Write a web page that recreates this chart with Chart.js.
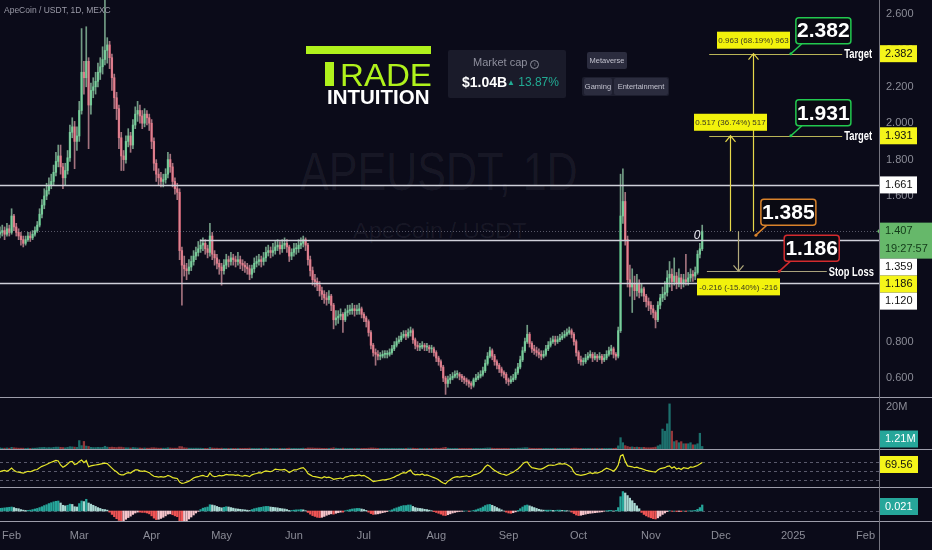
<!DOCTYPE html>
<html>
<head>
<meta charset="utf-8">
<script src="https://cdn.jsdelivr.net/npm/chart.js@4.4.1/dist/chart.umd.min.js"></script>
<style>
  body { margin: 0; background: #0b0b19; }
  #wrap { position: relative; width: 932px; height: 550px; overflow: hidden; background: #0b0b19; font-family: 'Liberation Sans', Arial, sans-serif; }
  canvas { position: absolute; left: 0; }
  .abs { position: absolute; white-space: nowrap; }
  .sep { position: absolute; left: 0; width: 932px; height: 1px; background: #9d9daa; }
  .tag { height: 17px; background: #2b2c3e; color: #c2c2ce; font: 7.5px/17px 'Liberation Sans', Arial, sans-serif; text-align: center; border-radius: 2px; }
  #wm1 { left: 300px; top: 145px; font: 53px/53px 'Liberation Sans', Arial, sans-serif; color: rgba(210, 210, 230, 0.07); transform-origin: 0 0; }
  #wm2 { left: 353px; top: 220px; font: 22px/22px 'Liberation Sans', Arial, sans-serif; color: rgba(210, 210, 230, 0.07); transform-origin: 0 0; }
  #rade { left: 340px; top: 59px; font: 32px/32px 'Liberation Sans', Arial, sans-serif; color: #b0f21c; transform-origin: 0 0; }
  #intu { left: 327px; top: 88px; font: bold 19.5px/19.5px 'Liberation Sans', Arial, sans-serif; color: #fff; transform-origin: 0 0; }
</style>
</head>
<body>
<div id="wrap">
  <div id="wm1" class="abs">APEUSDT, 1D</div>
  <div id="wm2" class="abs">ApeCoin / USDT</div>

  <canvas id="main" width="932" height="397" style="top:0"></canvas>
  <canvas id="vol" width="932" height="51" style="top:398px"></canvas>
  <canvas id="rsi" width="932" height="37" style="top:450px"></canvas>
  <canvas id="macd" width="932" height="62" style="top:488px"></canvas>

  <div class="sep" style="top:397px"></div>
  <div class="sep" style="top:449px"></div>
  <div class="sep" style="top:487px"></div>
  <div class="sep" style="top:521px"></div>
  <div class="abs" style="left:879px;top:0;width:1px;height:550px;background:#74747f"></div>

  <div class="abs" style="left:4px;top:5px;font:8.5px 'Liberation Sans',Arial,sans-serif;color:#9b9ba8">ApeCoin / USDT, 1D, MEXC</div>

  <!-- logo -->
  <div class="abs" style="left:306px;top:46px;width:125px;height:8px;background:#b0f21c"></div>
  <div class="abs" style="left:325px;top:62px;width:9px;height:24px;background:#b0f21c"></div>
  <div id="rade" class="abs">RADE</div>
  <div id="intu" class="abs">INTUITION</div>

  <!-- market cap -->
  <div class="abs" style="left:448px;top:50px;width:118px;height:48px;background:#1a1b2a;border-radius:2px"></div>
  <div class="abs" style="left:473px;top:56px;font:11px/12px 'Liberation Sans',Arial,sans-serif;color:#8e8f9d">Market cap <span style="display:inline-block;width:7px;height:7px;border:1px solid #8e8f9d;border-radius:50%;font-size:6px;line-height:7px;text-align:center">i</span></div>
  <div class="abs" style="left:462px;top:75px;font:bold 14px/14px 'Liberation Sans',Arial,sans-serif;color:#fff">$1.04B</div>
  <div class="abs" style="left:507px;top:76px;font:12px/12px 'Liberation Sans',Arial,sans-serif;color:#22ab94"><span style="font-size:8px;vertical-align:1px">▲</span> 13.87%</div>

  <div class="abs tag" style="left:587px;top:52px;width:40px">Metaverse</div>
  <div class="abs" style="left:582px;top:77px;width:87px;height:19px;background:#1d1e2e;border-radius:2px"></div>
  <div class="abs tag" style="left:584px;top:78px;width:28px">Gaming</div>
  <div class="abs tag" style="left:614px;top:78px;width:54px">Entertainment</div>
</div>

<script>
// daily candles, first one is 27 Jan 2024 (day 0 = 1 Feb 2024)
const firstDay = -5;
const firstOpen = 1.39;

const closes = [
  1.40,1.41,1.39,1.42,1.40,
  1.49,1.43,1.40,1.38,1.36,1.34,1.36,1.38,1.37,1.39,
  1.41,1.44,1.50,1.55,1.60,1.63,1.66,1.68,1.73,1.79,
  1.82,1.76,1.70,1.74,1.81,1.95,1.98,1.90,1.93,2.07,
  2.28,2.25,2.34,2.10,2.18,2.20,2.23,2.28,2.31,2.35,
  2.40,2.43,2.36,2.25,2.14,2.08,1.92,1.82,1.80,1.90,
  1.93,1.88,1.99,2.05,2.07,2.04,2.00,2.05,2.03,2.00,
  1.90,1.78,1.72,1.70,1.68,1.69,1.72,1.80,1.76,1.68,
  1.64,1.62,1.30,1.22,1.20,1.19,1.21,1.24,1.27,1.29,
  1.31,1.33,1.34,1.31,1.29,1.38,1.28,1.26,1.23,1.21,
  1.19,1.22,1.25,1.24,1.26,1.25,1.24,1.25,1.23,1.22,
  1.21,1.20,1.17,1.20,1.23,1.24,1.25,1.24,1.26,1.29,
  1.30,1.29,1.30,1.32,1.33,1.31,1.33,1.34,1.32,1.27,
  1.29,1.31,1.31,1.33,1.34,1.36,1.33,1.25,1.19,1.14,
  1.13,1.11,1.08,1.06,1.04,1.03,1.05,1.00,0.92,0.93,
  0.94,0.95,0.92,0.96,0.97,0.97,0.98,0.97,0.97,0.98,
  0.95,0.93,0.91,0.85,0.78,0.74,0.73,0.72,0.72,0.73,
  0.73,0.73,0.74,0.76,0.78,0.80,0.81,0.83,0.84,0.83,
  0.85,0.86,0.81,0.78,0.77,0.77,0.78,0.77,0.77,0.76,
  0.76,0.74,0.71,0.69,0.66,0.60,0.57,0.59,0.60,0.61,
  0.62,0.62,0.61,0.60,0.59,0.58,0.57,0.56,0.59,0.60,
  0.61,0.62,0.64,0.68,0.72,0.75,0.72,0.69,0.67,0.65,
  0.63,0.62,0.59,0.58,0.59,0.60,0.63,0.66,0.70,0.75,
  0.80,0.84,0.79,0.76,0.75,0.74,0.73,0.72,0.73,0.76,
  0.78,0.80,0.81,0.80,0.81,0.82,0.83,0.84,0.85,0.86,
  0.84,0.80,0.74,0.70,0.69,0.69,0.71,0.72,0.73,0.71,
  0.72,0.71,0.72,0.70,0.71,0.73,0.75,0.76,0.73,0.72,
  0.86,1.49,1.57,1.36,1.14,1.10,1.12,1.08,1.12,1.07,
  1.09,1.05,1.02,1.00,0.98,0.96,0.92,1.00,1.04,1.06,
  1.07,1.15,1.17,1.13,1.16,1.12,1.15,1.12,1.14,1.13,
  1.15,1.17,1.16,1.18,1.28,1.31,1.407
];

const highs = [
  1.43,1.44,1.43,1.45,1.44,
  1.53,1.50,1.45,1.42,1.40,1.38,1.38,1.40,1.40,1.41,
  1.43,1.46,1.53,1.58,1.64,1.67,1.70,1.72,1.77,1.84,
  1.88,1.88,1.78,1.78,1.85,1.99,2.03,2.01,1.98,2.12,
  2.52,2.34,2.53,2.36,2.22,2.25,2.28,2.33,2.36,2.42,
  2.68,2.47,2.45,2.38,2.27,2.17,2.10,1.95,1.85,1.93,
  1.97,1.95,2.02,2.09,2.12,2.10,2.07,2.08,2.07,2.05,
  2.02,1.92,1.80,1.75,1.73,1.72,1.75,1.84,1.83,1.78,
  1.70,1.67,1.64,1.32,1.27,1.23,1.25,1.27,1.30,1.32,
  1.35,1.36,1.37,1.36,1.33,1.45,1.40,1.30,1.28,1.25,
  1.23,1.25,1.28,1.27,1.29,1.28,1.27,1.29,1.27,1.25,
  1.24,1.23,1.22,1.22,1.26,1.27,1.28,1.27,1.29,1.32,
  1.33,1.32,1.34,1.35,1.36,1.35,1.36,1.37,1.36,1.33,
  1.31,1.34,1.34,1.36,1.37,1.38,1.37,1.34,1.27,1.21,
  1.17,1.15,1.13,1.10,1.08,1.07,1.08,1.06,1.01,0.97,
  0.97,0.98,0.96,0.98,1.00,1.00,1.01,1.00,1.00,1.01,
  0.99,0.96,0.94,0.92,0.86,0.79,0.76,0.75,0.74,0.75,
  0.75,0.75,0.76,0.78,0.80,0.82,0.83,0.85,0.86,0.86,
  0.87,0.88,0.87,0.82,0.80,0.79,0.80,0.79,0.79,0.78,
  0.78,0.77,0.75,0.72,0.70,0.67,0.61,0.61,0.62,0.63,
  0.64,0.64,0.63,0.62,0.61,0.60,0.59,0.58,0.60,0.62,
  0.63,0.64,0.66,0.70,0.74,0.77,0.76,0.73,0.70,0.68,
  0.66,0.64,0.63,0.60,0.61,0.62,0.65,0.68,0.72,0.77,
  0.82,0.89,0.85,0.80,0.78,0.77,0.76,0.75,0.75,0.78,
  0.80,0.82,0.83,0.83,0.83,0.84,0.85,0.86,0.87,0.88,
  0.87,0.85,0.81,0.75,0.72,0.71,0.73,0.74,0.75,0.74,
  0.74,0.73,0.74,0.73,0.73,0.75,0.77,0.78,0.77,0.74,
  0.88,1.72,1.75,1.62,1.38,1.22,1.20,1.16,1.17,1.14,
  1.12,1.10,1.06,1.04,1.02,1.00,0.97,1.02,1.06,1.10,
  1.13,1.19,1.24,1.20,1.26,1.18,1.20,1.17,1.17,1.28,
  1.18,1.20,1.19,1.21,1.30,1.34,1.44
];

const lows = [
  1.37,1.38,1.36,1.38,1.38,
  1.39,1.41,1.38,1.36,1.33,1.32,1.33,1.35,1.35,1.36,
  1.38,1.40,1.43,1.48,1.53,1.58,1.61,1.64,1.66,1.71,
  1.76,1.72,1.64,1.66,1.72,1.79,1.92,1.75,1.85,1.90,
  2.05,2.16,2.20,1.86,2.05,2.14,2.16,2.20,2.24,2.27,
  2.32,2.33,2.30,2.18,2.08,2.02,1.86,1.74,1.74,1.78,
  1.87,1.84,1.86,1.97,2.01,2.00,1.97,1.98,1.99,1.96,
  1.86,1.74,1.68,1.66,1.65,1.65,1.67,1.70,1.73,1.65,
  1.61,1.58,1.25,1.00,1.16,1.14,1.17,1.19,1.22,1.25,
  1.27,1.29,1.30,1.28,1.26,1.27,1.25,1.22,1.20,1.17,
  1.11,1.17,1.20,1.21,1.22,1.22,1.21,1.22,1.20,1.19,
  1.18,1.17,1.14,1.15,1.18,1.21,1.22,1.21,1.22,1.24,
  1.27,1.26,1.27,1.28,1.30,1.28,1.29,1.31,1.29,1.24,
  1.25,1.27,1.28,1.29,1.31,1.32,1.30,1.22,1.16,1.11,
  1.10,1.08,1.05,1.03,1.01,1.00,1.01,0.97,0.87,0.89,
  0.90,0.92,0.85,0.91,0.94,0.95,0.95,0.94,0.95,0.95,
  0.93,0.91,0.88,0.83,0.76,0.72,0.67,0.70,0.70,0.71,
  0.71,0.71,0.72,0.73,0.75,0.77,0.79,0.80,0.82,0.81,
  0.82,0.83,0.79,0.76,0.75,0.75,0.76,0.75,0.75,0.74,
  0.74,0.72,0.69,0.67,0.64,0.58,0.51,0.55,0.57,0.59,
  0.60,0.60,0.59,0.58,0.57,0.56,0.55,0.54,0.55,0.58,
  0.59,0.60,0.61,0.63,0.67,0.71,0.70,0.67,0.65,0.63,
  0.61,0.60,0.57,0.56,0.57,0.58,0.59,0.62,0.65,0.69,
  0.74,0.79,0.77,0.74,0.73,0.72,0.71,0.70,0.71,0.72,
  0.75,0.77,0.79,0.78,0.79,0.80,0.81,0.82,0.83,0.84,
  0.82,0.78,0.72,0.68,0.67,0.67,0.68,0.70,0.71,0.69,
  0.70,0.69,0.70,0.68,0.69,0.70,0.72,0.73,0.71,0.70,
  0.71,0.85,1.45,1.33,1.10,1.05,0.96,1.03,1.05,1.04,
  1.05,1.02,0.99,0.97,0.95,0.93,0.875,0.91,0.98,1.02,
  1.03,1.05,1.10,1.08,1.11,1.09,1.10,1.09,1.10,1.11,
  1.11,1.13,1.13,1.14,1.17,1.26,1.30
];

// volume in millions
const volumes = [
  0.5,0.4,0.4,0.5,0.4,
  0.8,0.6,0.5,0.4,0.4,0.4,0.3,0.4,0.3,0.4,
  0.4,0.5,0.7,0.7,0.8,0.6,0.7,0.6,0.8,0.9,
  0.9,0.8,0.7,0.6,0.8,1.1,1.0,0.9,0.8,4.0,
  1.6,3.6,1.4,1.2,0.8,0.7,0.7,0.8,0.7,0.8,
  1.3,0.9,0.8,0.9,0.8,0.7,0.9,0.9,0.7,0.6,
  0.6,0.5,0.7,0.6,0.5,0.5,0.4,0.5,0.4,0.4,
  0.6,0.6,0.5,0.4,0.4,0.4,0.4,0.6,0.5,0.4,
  0.4,0.4,1.2,1.1,0.6,0.5,0.4,0.4,0.4,0.4,
  0.4,0.4,0.3,0.3,0.3,0.7,0.5,0.4,0.4,0.3,
  0.4,0.3,0.3,0.3,0.3,0.3,0.3,0.3,0.3,0.3,
  0.3,0.3,0.4,0.3,0.3,0.3,0.3,0.3,0.3,0.4,
  0.3,0.3,0.3,0.3,0.3,0.3,0.3,0.3,0.3,0.4,
  0.3,0.3,0.3,0.3,0.3,0.4,0.3,0.5,0.5,0.5,
  0.4,0.4,0.4,0.3,0.3,0.3,0.3,0.4,0.6,0.4,
  0.3,0.3,0.4,0.3,0.3,0.3,0.3,0.3,0.3,0.3,
  0.3,0.3,0.3,0.4,0.5,0.5,0.4,0.3,0.3,0.3,
  0.3,0.3,0.3,0.3,0.3,0.3,0.3,0.3,0.3,0.3,
  0.4,0.4,0.4,0.3,0.3,0.3,0.3,0.3,0.3,0.3,
  0.3,0.3,0.4,0.3,0.4,0.6,0.8,0.4,0.3,0.3,
  0.3,0.3,0.3,0.3,0.3,0.3,0.3,0.3,0.3,0.3,
  0.3,0.3,0.3,0.4,0.5,0.5,0.4,0.3,0.3,0.3,
  0.3,0.3,0.3,0.3,0.3,0.3,0.3,0.4,0.4,0.5,
  0.6,0.6,0.4,0.3,0.3,0.3,0.3,0.3,0.3,0.3,
  0.3,0.3,0.3,0.3,0.3,0.3,0.3,0.3,0.3,0.3,
  0.3,0.4,0.4,0.3,0.3,0.3,0.3,0.3,0.3,0.3,
  0.3,0.3,0.3,0.3,0.3,0.3,0.3,0.3,0.3,0.4,
  1.5,5.4,3.0,1.6,1.2,0.9,1.0,0.8,0.9,0.8,
  0.7,0.8,0.6,0.6,0.6,0.7,0.9,1.5,2.0,9.5,
  8.5,12.0,21.5,8.5,3.5,4.0,3.0,3.5,2.5,2.5,
  2.5,3.0,2.0,2.0,2.5,7.5,1.21
];

const rsiValues = [
  49,51,52,50,53,
  57,52,49,48,47,46,48,50,49,51,
  53,54,58,61,63,65,68,70,72,74,
  73,64,59,62,66,71,72,65,67,72,
  75,69,74,60,62,63,64,65,66,67,
  68,67,62,57,52,49,44,42,42,45,
  47,46,50,53,53,51,50,51,49,47,
  42,39,38,37,38,37,38,41,39,36,
  35,34,26,23,24,26,28,31,35,37,
  38,40,41,39,38,46,40,38,39,41,
  40,41,43,42,42,42,41,42,40,39,
  41,40,38,42,44,45,47,46,49,51,
  50,49,51,55,54,53,53,54,51,47,
  50,53,53,55,57,58,53,45,42,39,
  38,37,36,35,38,36,37,35,32,33,
  34,35,33,37,38,40,41,40,41,42,
  40,41,38,35,31,27,28,29,30,31,
  31,32,33,35,37,40,42,45,47,46,
  50,53,45,42,43,42,44,41,42,40,
  38,36,34,31,27,24,22,28,31,35,
  37,38,37,38,39,40,38,39,42,43,
  45,48,53,60,64,61,56,52,49,46,
  44,43,41,43,46,48,52,55,60,66,
  70,71,63,58,57,56,55,55,57,60,
  63,64,63,64,66,67,66,67,65,62,
  58,48,43,42,41,42,43,45,47,45,
  47,46,48,50,54,57,55,53,50,55,
  64,84,87,72,62,61,60,58,59,57,
  56,54,52,51,50,49,48,53,56,57,
  58,61,62,57,60,55,57,54,58,57,
  56,60,59,61,63,66,69.56
];

const macdHist = [
  0.009,0.010,0.011,0.012,0.013,
  0.014,0.012,0.009,0.008,0.005,0.003,0.002,0.002,0.003,0.005,
  0.007,0.009,0.012,0.015,0.019,0.022,0.026,0.029,0.032,0.034,
  0.035,0.028,0.020,0.018,0.020,0.024,0.023,0.015,0.014,0.026,
  0.035,0.033,0.041,0.028,0.024,0.020,0.016,0.012,0.009,0.006,
  0.005,0.003,-0.004,-0.012,-0.020,-0.027,-0.033,-0.036,-0.034,-0.029,
  -0.023,-0.018,-0.012,-0.007,-0.004,-0.004,-0.005,-0.005,-0.007,-0.010,
  -0.017,-0.025,-0.030,-0.029,-0.026,-0.022,-0.017,-0.011,-0.010,-0.013,
  -0.017,-0.020,-0.034,-0.040,-0.038,-0.034,-0.028,-0.021,-0.014,-0.007,
  -0.001,0.005,0.010,0.012,0.014,0.022,0.021,0.019,0.016,0.013,
  0.011,0.013,0.015,0.014,0.012,0.010,0.008,0.007,0.006,0.005,
  0.004,0.003,0.002,0.005,0.008,0.010,0.012,0.013,0.015,0.016,
  0.016,0.014,0.013,0.012,0.011,0.009,0.008,0.007,0.005,0.002,
  0.002,0.003,0.004,0.004,0.005,0.004,0.001,-0.005,-0.011,-0.016,
  -0.019,-0.022,-0.023,-0.022,-0.019,-0.015,-0.012,-0.010,-0.011,-0.008,
  -0.006,-0.004,-0.004,0.001,0.003,0.005,0.007,0.008,0.009,0.009,
  0.007,0.005,0.002,-0.004,-0.009,-0.012,-0.011,-0.010,-0.008,-0.006,
  -0.004,-0.002,0.001,0.004,0.008,0.011,0.014,0.017,0.019,0.019,
  0.021,0.021,0.016,0.012,0.010,0.009,0.008,0.006,0.005,0.003,
  0.001,-0.002,-0.005,-0.008,-0.011,-0.015,-0.016,-0.013,-0.010,-0.007,
  -0.005,-0.003,-0.002,-0.001,0.000,0.000,-0.001,0.000,0.002,0.004,
  0.007,0.010,0.014,0.019,0.022,0.023,0.020,0.016,0.012,0.008,
  0.004,0.000,-0.004,-0.007,-0.008,-0.006,-0.003,0.002,0.008,0.014,
  0.019,0.021,0.018,0.015,0.012,0.009,0.006,0.004,0.003,0.003,
  0.003,0.003,0.002,0.002,0.003,0.003,0.002,0.002,0.001,0.000,
  -0.004,-0.009,-0.014,-0.016,-0.015,-0.013,-0.011,-0.009,-0.008,-0.007,
  -0.006,-0.005,-0.004,-0.003,-0.001,0.001,0.002,0.002,0.000,0.002,
  0.012,0.050,0.068,0.063,0.054,0.045,0.036,0.027,0.018,0.008,
  -0.005,-0.012,-0.017,-0.021,-0.024,-0.027,-0.028,-0.024,-0.018,-0.012,
  -0.007,-0.002,0.001,-0.001,0.000,-0.002,-0.001,-0.002,0.000,-0.001,
  0.000,0.001,0.001,0.002,0.006,0.012,0.021
];

const monthTicks = [0, 29, 60, 90, 121, 151, 182, 213, 243, 274, 304, 335, 366];
const monthLabels = ['Feb', 'Mar', 'Apr', 'May', 'Jun', 'Jul', 'Aug', 'Sep', 'Oct', 'Nov', 'Dec', '2025', 'Feb'];
const priceTicks = [0.6, 0.8, 1.0, 1.2, 1.4, 1.6, 1.8, 2.0, 2.2, 2.4, 2.6];

// drawn levels
const levels = [1.661, 1.359, 1.120];
const levelStartDay = [-5, 80.7, -5];
const targets = [2.382, 1.931];
const entryPrice = 1.385;
const stopPrice = 1.186;
const measureLabels = ['0.963 (68.19%) 963', '0.517 (36.74%) 517', '-0.216 (-15.40%) -216'];
const timerText = '19:27:57';

Chart.defaults.font.family = "'Liberation Sans', Arial, sans-serif";
Chart.defaults.color = '#8b8c97';

const xMin = -4.97, xMax = 372.2;
const days = closes.map((c, i) => i + firstDay);
const opens = closes.map((c, i) => (i ? closes[i - 1] : firstOpen));
const isUp = closes.map((c, i) => c >= opens[i]);
const last = closes.length - 1;

function fixAxis(s) {
  s.width = 52;
  s.paddingTop = 0;
  s.paddingBottom = 0;
}

function badge(ctx, x, top, w, h, bg, fg, lines) {
  ctx.fillStyle = bg;
  ctx.fillRect(x, top, w, h);
  ctx.fillStyle = fg;
  ctx.font = "11px 'Liberation Sans', Arial, sans-serif";
  ctx.textAlign = 'left';
  ctx.textBaseline = 'middle';
  lines.forEach((t, k) => ctx.fillText(t, x + 5, top + 8.5 + k * 18));
}

// draw text squeezed to a given width
function fitText(ctx, text, x, y, w) {
  const tw = ctx.measureText(text).width;
  ctx.save();
  ctx.translate(x, y);
  ctx.scale(Math.min(1, w / tw), 1);
  ctx.fillText(text, 0, 0);
  ctx.restore();
}

function xAxis(show) {
  const ax = { type: 'linear', min: xMin, max: xMax, offset: false, display: show };
  if (show) {
    ax.grid = { display: false, drawTicks: false };
    ax.border = { display: false };
    ax.ticks = {
      autoSkip: false, maxRotation: 0, padding: 8, color: '#8b8c97', font: { size: 11 },
      callback: v => monthLabels[monthTicks.indexOf(v)] || ''
    };
    ax.afterBuildTicks = s => { s.ticks = monthTicks.map(v => ({ value: v })); };
    ax.afterFit = s => { s.height = 29; s.paddingLeft = 0; s.paddingRight = 0; };
  }
  return ax;
}

function baseOptions(yAxis, showX) {
  return {
    responsive: false,
    animation: false,
    layout: { padding: 0 },
    plugins: { legend: { display: false }, tooltip: { enabled: false } },
    scales: {
      x: xAxis(showX),
      y: Object.assign({ position: 'right', grid: { display: false, drawTicks: false }, border: { display: false }, afterFit: fixAxis }, yAxis)
    }
  };
}

// ---------- main price pane ----------
const mainDraw = {
  id: 'mainDraw',
  afterDatasetsDraw(chart) {
    const { ctx, chartArea: a, scales: { x, y } } = chart;
    ctx.save();

    // horizontal levels
    ctx.strokeStyle = '#cfd0d9';
    ctx.lineWidth = 1.5;
    levels.forEach((v, k) => {
      const py = Math.round(y.getPixelForValue(v)) + 0.5;
      ctx.beginPath();
      ctx.moveTo(Math.max(a.left, x.getPixelForValue(levelStartDay[k])), py);
      ctx.lineTo(a.right, py);
      ctx.stroke();
    });

    // last price line
    const base = closes[last];
    const yBase = y.getPixelForValue(base);
    ctx.strokeStyle = 'rgba(150,150,165,0.55)';
    ctx.lineWidth = 1;
    ctx.setLineDash([1, 2]);
    ctx.beginPath();
    ctx.moveTo(a.left, Math.round(yBase) + 0.5);
    ctx.lineTo(a.right, Math.round(yBase) + 0.5);
    ctx.stroke();
    ctx.setLineDash([]);

    // target and stop lines
    const tx0 = x.getPixelForValue(299), tx1 = x.getPixelForValue(356);
    ctx.strokeStyle = '#b9b457';
    ctx.lineWidth = 1;
    targets.forEach(v => {
      const py = Math.round(y.getPixelForValue(v)) + 0.5;
      ctx.beginPath(); ctx.moveTo(tx0, py); ctx.lineTo(tx1, py); ctx.stroke();
    });
    const sx0 = x.getPixelForValue(298), sx1 = x.getPixelForValue(349.4);
    const yStop = Math.round(y.getPixelForValue(stopPrice)) + 0.5;
    ctx.strokeStyle = '#a9a27c';
    ctx.beginPath(); ctx.moveTo(sx0, yStop); ctx.lineTo(sx1, yStop); ctx.stroke();

    ctx.fillStyle = '#ffffff';
    ctx.font = "bold 12px 'Liberation Sans', Arial, sans-serif";
    ctx.textAlign = 'left';
    ctx.textBaseline = 'middle';
    targets.forEach(v => fitText(ctx, 'Target', tx1 + 2, y.getPixelForValue(v) + 1, 28));
    fitText(ctx, 'Stop Loss', sx1 + 2, yStop + 1, 45);

    // measure arrows
    const arrows = [
      { day: 317.6, to: targets[0], col: '#e6d84a', label: measureLabels[0], w: 73 },
      { day: 307.9, to: targets[1], col: '#e6d84a', label: measureLabels[1], w: 73 },
      { day: 311.3, to: stopPrice, col: '#b3ab7c', label: measureLabels[2], w: 83 }
    ];
    arrows.forEach(ar => {
      const px = Math.round(x.getPixelForValue(ar.day)) + 0.5;
      const pe = y.getPixelForValue(ar.to);
      const dir = pe < yBase ? 1 : -1;
      ctx.strokeStyle = ar.col;
      ctx.lineWidth = 1.2;
      ctx.beginPath();
      ctx.moveTo(px, yBase); ctx.lineTo(px, pe);
      ctx.moveTo(px - 5, pe + dir * 6); ctx.lineTo(px, pe); ctx.lineTo(px + 5, pe + dir * 6);
      ctx.stroke();
      const bh = 17;
      const top = dir > 0 ? pe - 5 - bh : pe + 7;
      ctx.fillStyle = '#f2f20c';
      ctx.fillRect(px - ar.w / 2, top, ar.w, bh);
      ctx.fillStyle = '#3b3b20';
      ctx.font = "8px 'Liberation Sans', Arial, sans-serif";
      ctx.textAlign = 'center';
      ctx.fillText(ar.label, px, top + bh / 2 + 0.5);
    });

    // callouts
    const callouts = [
      { v: targets[0], day: 334, col: '#22c94f' },
      { v: targets[1], day: 334, col: '#22c94f' },
      { v: entryPrice, day: 319, col: '#d9822b' },
      { v: stopPrice, day: 329, col: '#d42b2e' }
    ];
    callouts.forEach(c => {
      const ax = x.getPixelForValue(c.day), ay = y.getPixelForValue(c.v);
      const bx = ax + 5, by = ay - 10 - 26;
      ctx.strokeStyle = c.col;
      ctx.lineWidth = 1.5;
      ctx.beginPath(); ctx.moveTo(bx + 6, ay - 10); ctx.lineTo(ax, ay); ctx.stroke();
      ctx.fillStyle = c.col;
      ctx.beginPath(); ctx.arc(ax, ay, 1.5, 0, Math.PI * 2); ctx.fill();
      ctx.fillStyle = '#0a0a12';
      ctx.beginPath(); ctx.roundRect(bx, by, 55, 26, 3); ctx.fill(); ctx.stroke();
      ctx.fillStyle = '#ffffff';
      ctx.font = "bold 21px 'Liberation Sans', Arial, sans-serif";
      ctx.textAlign = 'center';
      ctx.fillText(c.v.toFixed(3), bx + 27.5, by + 14);
    });

    // stray drawing mark
    ctx.fillStyle = '#e8e8f0';
    ctx.font = "italic 12px 'Liberation Sans', Arial, sans-serif";
    ctx.fillText('0', x.getPixelForValue(293.8), y.getPixelForValue(1.38));
    ctx.restore();
  },
  afterDraw(chart) {
    const { ctx, chartArea: a, scales: { y } } = chart;
    const list = [
      { v: targets[0], bg: '#f5f51a' },
      { v: targets[1], bg: '#f5f51a' },
      { v: levels[0], bg: '#ffffff' },
      { v: closes[last], bg: '#66b86a', timer: true },
      { v: levels[1], bg: '#ffffff' },
      { v: stopPrice, bg: '#f5f51a' },
      { v: levels[2], bg: '#ffffff' }
    ];
    let prevBottom = -Infinity;
    ctx.save();
    list.forEach(b => {
      const h = b.timer ? 36 : 17;
      const top = Math.max(y.getPixelForValue(b.v) - 8.5, prevBottom);
      prevBottom = top + h;
      if (b.timer) {
        ctx.fillStyle = b.bg;
        ctx.beginPath();
        ctx.moveTo(a.right - 3, top + 8.5); ctx.lineTo(a.right + 1, top + 4); ctx.lineTo(a.right + 1, top + 13);
        ctx.fill();
        badge(ctx, a.right, top, 52, h, b.bg, '#123a18', [b.v.toFixed(3), timerText]);
      } else {
        badge(ctx, a.right, top, 37, h, b.bg, '#111111', [b.v.toFixed(3)]);
      }
    });
    ctx.restore();
  }
};

new Chart(document.getElementById('main'), {
  type: 'bar',
  data: {
    datasets: [
      {
        data: days.map((d, i) => ({ x: d, y: [lows[i], highs[i]] })),
        backgroundColor: isUp.map(u => (u ? 'rgba(150,205,170,0.75)' : 'rgba(215,150,160,0.75)')),
        barThickness: 1, grouped: false
      },
      {
        data: days.map((d, i) => ({ x: d, y: [Math.min(opens[i], closes[i]), Math.max(opens[i], closes[i])] })),
        backgroundColor: isUp.map(u => (u ? '#45c17c' : '#e5566b')),
        barThickness: 1.6, minBarLength: 1, grouped: false
      }
    ]
  },
  options: baseOptions({
    min: 0.4956, max: 2.677,
    ticks: { color: '#8b8c97', font: { size: 11 }, padding: 6, callback: v => Number(v).toFixed(3) },
    afterBuildTicks: s => { s.ticks = priceTicks.map(v => ({ value: v })); }
  }, false),
  plugins: [mainDraw]
});

// ---------- volume pane ----------
new Chart(document.getElementById('vol'), {
  type: 'bar',
  data: {
    datasets: [{
      data: days.map((d, i) => ({ x: d, y: volumes[i] })),
      backgroundColor: isUp.map(u => (u ? 'rgba(38,166,154,0.65)' : 'rgba(239,83,80,0.6)')),
      barThickness: 1.6, grouped: false
    }]
  },
  options: baseOptions({
    min: 0, max: 24.3,
    ticks: { color: '#8b8c97', font: { size: 11 }, padding: 6, callback: v => v + 'M' },
    afterBuildTicks: s => { s.ticks = [{ value: 20 }]; }
  }, false),
  plugins: [{
    id: 'volBadge',
    afterDraw(chart) {
      const { chartArea: a, scales: { y } } = chart;
      const yc = Math.min(y.getPixelForValue(volumes[last]), a.bottom - 10);
      badge(chart.ctx, a.right, yc - 8.5, 38, 17, '#26a69a', '#ffffff', [volumes[last].toFixed(2) + 'M']);
    }
  }]
});

// ---------- RSI pane ----------
new Chart(document.getElementById('rsi'), {
  type: 'line',
  data: {
    datasets: [{
      data: days.map((d, i) => ({ x: d, y: rsiValues[i] })),
      borderColor: '#e6e62a', borderWidth: 1.2, pointRadius: 0, tension: 0
    }]
  },
  options: baseOptions({ min: 15.1, max: 97.3, ticks: { display: false } }, false),
  plugins: [{
    id: 'rsiBands',
    beforeDatasetsDraw(chart) {
      const { ctx, chartArea: a, scales: { y } } = chart;
      ctx.save();
      ctx.strokeStyle = '#5a5a6c';
      ctx.lineWidth = 1;
      ctx.setLineDash([3, 3]);
      [70, 50, 30].forEach(v => {
        const py = Math.round(y.getPixelForValue(v)) + 0.5;
        ctx.beginPath(); ctx.moveTo(a.left, py); ctx.lineTo(a.right, py); ctx.stroke();
      });
      ctx.restore();
    },
    afterDraw(chart) {
      const { chartArea: a, scales: { y } } = chart;
      badge(chart.ctx, a.right, y.getPixelForValue(rsiValues[last]) - 6.5, 38, 17, '#f5f51a', '#111111', [rsiValues[last].toFixed(2)]);
    }
  }]
});

// ---------- MACD histogram pane ----------
const macdColors = macdHist.map((v, i) => {
  const prev = i ? macdHist[i - 1] : v;
  if (v >= 0) return v >= prev ? '#26a69a' : '#a9d8d2';
  return v <= prev ? '#f05454' : '#f5c4ca';
});

new Chart(document.getElementById('macd'), {
  type: 'bar',
  data: {
    datasets: [{
      data: days.map((d, i) => ({ x: d, y: macdHist[i] })),
      backgroundColor: macdColors,
      barThickness: 1.6, grouped: false
    }]
  },
  options: baseOptions({ min: -0.035, max: 0.0805, ticks: { display: false } }, true),
  plugins: [{
    id: 'macdZero',
    beforeDatasetsDraw(chart) {
      const { ctx, chartArea: a, scales: { y } } = chart;
      ctx.save();
      ctx.strokeStyle = '#4f4f60';
      ctx.setLineDash([3, 3]);
      const py = Math.round(y.getPixelForValue(0)) + 0.5;
      ctx.beginPath(); ctx.moveTo(a.left, py); ctx.lineTo(a.right, py); ctx.stroke();
      ctx.restore();
    },
    afterDraw(chart) {
      const { chartArea: a, scales: { y } } = chart;
      badge(chart.ctx, a.right, y.getPixelForValue(macdHist[last]) - 7, 38, 17, '#26a69a', '#ffffff', [macdHist[last].toFixed(3)]);
    }
  }]
});

// size the watermark and logo words to the picture
function fitWidth(id, w) {
  const el = document.getElementById(id);
  el.style.transform = 'scaleX(' + (w / el.offsetWidth) + ')';
}
fitWidth('wm1', 278);
fitWidth('wm2', 174);
fitWidth('rade', 92);
fitWidth('intu', 103);
</script>
</body>
</html>
